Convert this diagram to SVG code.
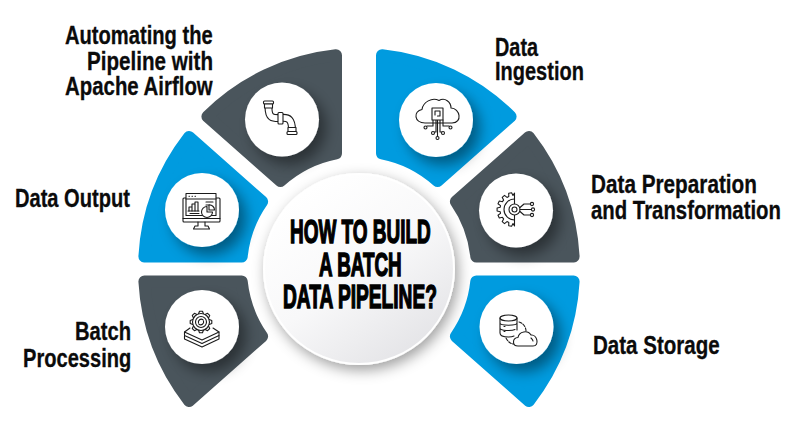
<svg xmlns="http://www.w3.org/2000/svg" width="800" height="434" viewBox="0 0 800 434">
  <style>
    .seg { stroke-width: 12; stroke-linejoin: round; }
    .dark { fill: #4a555c; stroke: #4a555c; }
    .blue { fill: #009bdf; stroke: #009bdf; }
    .badge { fill: #fff; filter: url(#badgeShadow); }
    .label { font-family: "Liberation Sans", Arial, sans-serif; font-weight: 700; font-size: 25.5px; fill: #0b0b0b; stroke: #0b0b0b; stroke-width: .3; }
    .title { font-family: "Liberation Sans", Arial, sans-serif; font-weight: 700; font-size: 33px; fill: #000; stroke: #000; stroke-width: 1.5; }
    .icon { fill: none; stroke: #1b1b1b; stroke-width: 1.1; stroke-linecap: round; stroke-linejoin: round; }
    .icon .w { fill: #fff; }
    .pipe-out { stroke-width: 8; }
    .pipe-in { stroke: #fff; stroke-width: 5.8; }
  </style>
  <defs>
    <filter id="badgeShadow" x="-50%" y="-50%" width="210%" height="210%">
      <feDropShadow dx="7" dy="8" stdDeviation="7" flood-color="#000" flood-opacity=".42"/>
    </filter>
    <filter id="hubShadow" x="-30%" y="-30%" width="170%" height="170%">
      <feDropShadow dx="3" dy="5" stdDeviation="7" flood-color="#000" flood-opacity=".38"/>
    </filter>
    <linearGradient id="hubFill" x1=".2" y1=".1" x2=".8" y2=".95">
      <stop offset="0" stop-color="#fff"/>
      <stop offset=".5" stop-color="#f8f8f9"/>
      <stop offset="1" stop-color="#e4e4e7"/>
    </linearGradient>
    <path id="tooth" class="w" d="M-2.400,-8.200 L-1.500,-10.800 L1.500,-10.800 L2.400,-8.200"/>
  </defs>

  <rect width="800" height="434" fill="#fff"/>

  <g id="hub">
    <circle cx="359" cy="269" r="96" fill="#fff" filter="url(#hubShadow)"/>
    <circle cx="359" cy="269" r="94" fill="url(#hubFill)"/>
    <text class="title" transform="translate(290 243) scale(.57 1)" textLength="247" lengthAdjust="spacingAndGlyphs">HOW TO BUILD</text>
    <text class="title" transform="translate(319 276) scale(.57 1)" textLength="145" lengthAdjust="spacingAndGlyphs">A BATCH</text>
    <text class="title" transform="translate(283 308) scale(.57 1)" textLength="270" lengthAdjust="spacingAndGlyphs">DATA PIPELINE?</text>
  </g>

  <g id="airflow">
    <path class="seg dark" d="M336,55.2 A215,215 0 0 0 207.4,116.4 L280.4,181 A118,118 0 0 1 336,153.3 Z"/>
    <circle class="badge" cx="282" cy="119.5" r="37"/>
    <g class="icon">
      <path class="pipe-out" d="M268.500,107 C268.500,118 272,118.500 281,118 C289,117 292,120 292,130"/>
      <path class="pipe-in" d="M268.500,107 C268.500,118 272,118.500 281,118 C289,117 292,120 292,130"/>
      <rect class="w" x="263.500" y="101" width="10" height="3" rx="1"/>
      <rect class="w" x="264.500" y="104" width="8" height="4"/>
      <rect class="w" x="278" y="112.500" width="5" height="11.500" rx="1"/>
      <rect class="w" x="288" y="127.500" width="8" height="4"/>
      <rect class="w" x="287" y="131.500" width="10" height="3" rx="1"/>
    </g>
    <text class="label" transform="translate(65 44) scale(.79 1)" textLength="187" lengthAdjust="spacingAndGlyphs">Automating the</text>
    <text class="label" transform="translate(87 70) scale(.79 1)" textLength="159.500" lengthAdjust="spacingAndGlyphs">Pipeline with</text>
    <text class="label" transform="translate(65 95) scale(.79 1)" textLength="187" lengthAdjust="spacingAndGlyphs">Apache Airflow</text>
  </g>

  <g id="output">
    <path class="seg blue" d="M189.1,137 A215,215 0 0 0 144.4,256.5 L241.7,256.5 A118,118 0 0 1 262.1,201.6 Z"/>
    <circle class="badge" cx="202" cy="210" r="37"/>
    <g class="icon">
      <rect x="183" y="198" width="37" height="24" rx="1"/>
      <path d="M183,218.500 H220 M198,222 V226 H195 L193.500,229 H209.500 L208,226 H205 V222"/>
      <rect class="w" x="186" y="193.500" width="30" height="22"/>
      <path d="M186,199 H216 M189,196.300 h.5 M192,196.300 h.5 M195,196.300 h.5"/>
      <path d="M189,211 V207 H192 V211 M192,211 V204 H195 V211 M195,211 V202 H198 V211"/>
      <path d="M188,211 H199 M190,213.500 h9 M206,202 h7 M206,205 h4"/>
      <path class="w" d="M207,206.500 A5.500,5.500 0 1 0 212.500,212 H207 Z"/>
      <path class="w" d="M209,205 A5,5 0 0 1 214.500,210 H209 Z"/>
    </g>
    <text class="label" transform="translate(15 207) scale(.79 1)" textLength="145.500" lengthAdjust="spacingAndGlyphs">Data Output</text>
  </g>

  <g id="processing">
    <path class="seg dark" d="M144.4,281.5 A215,215 0 0 0 189.1,401 L262.1,336.400 A118,118 0 0 1 241.7,281.5 Z"/>
    <circle class="badge" cx="202" cy="327" r="37"/>
    <g class="icon">
      <path d="M190,328 L184.500,332 L202,340 L219,332 L213,328"/>
      <path d="M184.500,332 V335.500 L202,343.500 L219,335.500 V332"/>
      <path d="M184.500,335.500 V339 L202,347 L219,339 V335.500"/>
      <circle class="w" cx="201" cy="322" r="8.500"/>
      <g transform="translate(201 322)">
        <use href="#tooth"/>
        <use href="#tooth" transform="rotate(45)"/>
        <use href="#tooth" transform="rotate(90)"/>
        <use href="#tooth" transform="rotate(135)"/>
        <use href="#tooth" transform="rotate(180)"/>
        <use href="#tooth" transform="rotate(225)"/>
        <use href="#tooth" transform="rotate(270)"/>
        <use href="#tooth" transform="rotate(315)"/>
      </g>
      <circle cx="201" cy="322" r="5.500"/>
      <path d="M198.500,323 A2.900,2.900 0 0 1 203,319.800 M203.500,321 A2.900,2.900 0 0 1 199,324.200"/>
    </g>
    <text class="label" transform="translate(75 340) scale(.79 1)" textLength="71" lengthAdjust="spacingAndGlyphs">Batch</text>
    <text class="label" transform="translate(23 367) scale(.79 1)" textLength="137" lengthAdjust="spacingAndGlyphs">Processing</text>
  </g>

  <g id="ingestion">
    <path class="seg blue" d="M382,55.2 A215,215 0 0 1 510.6,116.4 L437.6,181 A118,118 0 0 0 382,153.3 Z"/>
    <circle class="badge" cx="436" cy="120" r="37"/>
    <g class="icon">
      <path d="M425,123 C414,123 413,111 422,109.500 C423,102 432,97 439,100.500 C445,97 451,102 451,108 C460,108 463,123 452,123 Z"/>
      <path d="M433,120 V126 H427 M436,120 V132 H434.500 M437.500,120 V136.500 M440,120 V132 H441.500 M443,120 V126 H449"/>
      <rect class="w" x="432" y="108" width="11" height="12"/>
      <path d="M435,115 V111 H440 V116 H437.500"/>
      <circle class="w" cx="425.500" cy="127.500" r="1.500"/>
      <circle class="w" cx="450.500" cy="127.500" r="1.500"/>
      <circle class="w" cx="433" cy="133" r="1.500"/>
      <circle class="w" cx="443" cy="133" r="1.500"/>
      <circle class="w" cx="437.500" cy="138" r="1.500"/>
    </g>
    <text class="label" transform="translate(495 56) scale(.79 1)" textLength="54.500" lengthAdjust="spacingAndGlyphs">Data</text>
    <text class="label" transform="translate(495 80) scale(.79 1)" textLength="112.500" lengthAdjust="spacingAndGlyphs">Ingestion</text>
  </g>

  <g id="preparation">
    <path class="seg dark" d="M528.9,137 A215,215 0 0 1 573.6,256.5 L476.3,256.5 A118,118 0 0 0 455.900,201.6 Z"/>
    <circle class="badge" cx="516" cy="210.500" r="37"/>
    <g class="icon">
      <path d="M514.500,193 L513,195.500 L511.600,192.700 L508.700,193.300 L508.800,196.500 L507,197.400 L504.500,195.400 L502.200,197.300 L503.600,200.100 L502.400,201.700 L499.300,201 L498,203.700 L500.500,205.600 L500.200,207.300 L497.100,208 L497.100,211 L500.200,211.700 L500.500,213.400 L498,215.300 L499.300,218 L502.400,217.300 L503.600,218.900 L502.200,221.700 L504.500,223.600 L507,221.600 L508.800,222.500 L508.700,225.700 L511.600,226.300 L513,223.500 L514.500,226 Z"/>
      <path d="M514.500,199 A10.500,10.500 0 0 0 514.500,220"/>
      <circle class="w" cx="514.500" cy="209.500" r="5.500"/>
      <circle cx="514.500" cy="209.500" r="2.500"/>
      <path d="M520,207.500 L524,204 H530.500 M520,209.500 H531 M520,211.500 L524,215 H530.500"/>
      <circle class="w" cx="532" cy="204" r="1.600"/>
      <circle class="w" cx="533" cy="209.500" r="1.600"/>
      <circle class="w" cx="532" cy="215" r="1.600"/>
    </g>
    <text class="label" transform="translate(591 193) scale(.79 1)" textLength="210" lengthAdjust="spacingAndGlyphs">Data Preparation</text>
    <text class="label" transform="translate(591 219) scale(.79 1)" textLength="240.500" lengthAdjust="spacingAndGlyphs">and Transformation</text>
  </g>

  <g id="storage">
    <path class="seg blue" d="M573.6,281.5 A215,215 0 0 1 528.9,401 L455.900,336.400 A118,118 0 0 0 476.3,281.5 Z"/>
    <circle class="badge" cx="516.500" cy="327" r="37"/>
    <g class="icon">
      <ellipse cx="508.500" cy="318" rx="8.500" ry="3"/>
      <path d="M500,318 V333 C500,336 503,337 508.500,337 C511,337 513,336.500 514,336 M517,318 V330 M500,323 C500,326 517,326 517,323 M500,328 C500,331 512,331 515,329.500 M504,326.500 h1 M504,331.500 h1"/>
      <path d="M519,322 C523,323 526,327 526,331 M506,338 C508,342 511,344 514,344" stroke-dasharray="3 1.500"/>
      <path class="w" d="M518,346 C512,346 512,338 518,337.500 C519,331 528,330 531,335 C537,334 540,346 533,346 Z"/>
      <path d="M531,338 C532,339 533,340 533,341"/>
    </g>
    <text class="label" transform="translate(593 354) scale(.79 1)" textLength="160.500" lengthAdjust="spacingAndGlyphs">Data Storage</text>
  </g>

  <g id="connectors"></g>
</svg>
